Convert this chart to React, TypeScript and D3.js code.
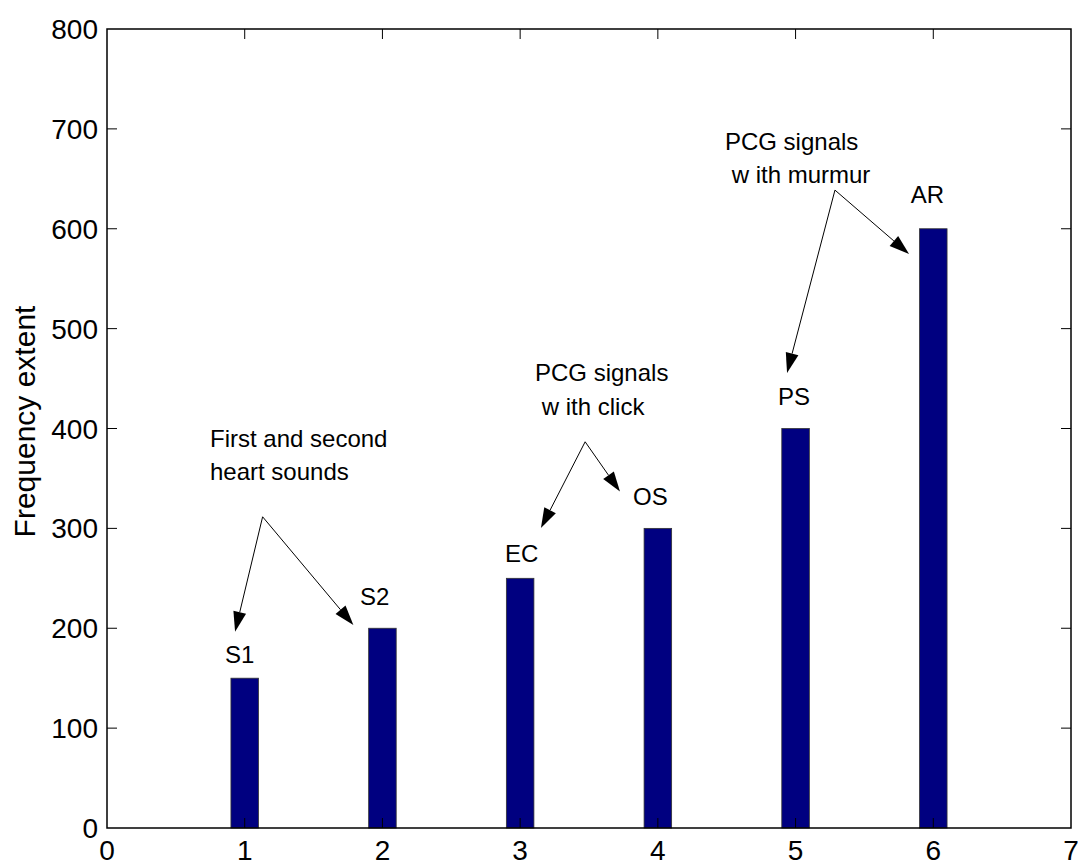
import React from "react";
import * as d3 from "d3";

const categories = [1, 2, 3, 4, 5, 6];
const values = [150, 200, 250, 300, 400, 600];
const barLabels = ["S1", "S2", "EC", "OS", "PS", "AR"];
const xTicks = [0, 1, 2, 3, 4, 5, 6, 7];
const yTicks = [0, 100, 200, 300, 400, 500, 600, 700, 800];

// label anchor (data units, left/baseline)
const labelPos: [number, number][] = [
  [0.857, 165],
  [1.837, 223],
  [2.89, 266],
  [3.82, 323],
  [4.873, 423.5],
  [5.836, 626],
];

const noteLines: string[][] = [
  ["First and second", "heart sounds"],
  ["PCG signals", "w ith click"],
  ["PCG signals", "w ith murmur"],
];
const notePos: [number, number][][] = [
  [[0.748, 381.5], [0.748, 348.4]],
  [[3.108, 447.4], [3.157, 414]],
  [[4.487, 678.8], [4.536, 645.8]],
];
// arrows: origin and two tips (data units)
const arrowOrigins: [number, number][] = [
  [1.130, 311.6],
  [3.472, 386.7],
  [5.286, 638.7],
];
const arrowTips: [number, number][][] = [
  [[0.930, 196.5], [1.789, 203.2]],
  [[3.151, 300.4], [3.725, 336.8]],
  [[4.938, 455.6], [5.824, 574.7]],
];

const W = 1078;
const H = 866;
const left = 107, right = 1071, top = 29, bottom = 828;

export default function App() {
  const x = d3.scaleLinear().domain([0, 7]).range([left, right]);
  const y = d3.scaleLinear().domain([0, 800]).range([bottom, top]);
  const barW = x(0.2) - x(0);
  const font = "'Liberation Sans', Arial, sans-serif";

  const arrow = (x0: number, y0: number, x1: number, y1: number, key: string) => {
    const dx = x1 - x0, dy = y1 - y0;
    const len = Math.hypot(dx, dy);
    const ux = dx / len, uy = dy / len;
    const hl = 20, hw = 6.5;
    const bx = x1 - ux * hl, by = y1 - uy * hl;
    const pts = [
      [x1, y1],
      [bx - uy * hw, by + ux * hw],
      [bx + uy * hw, by - ux * hw],
    ];
    return (
      <g key={key}>
        <line x1={x0} y1={y0} x2={bx} y2={by} stroke="#000" strokeWidth={1} />
        <polygon points={pts.map((p) => p.join(",")).join(" ")} fill="#000" />
      </g>
    );
  };

  return (
    <svg width={W} height={H} style={{ display: "block", position: "absolute", left: 0, top: 0 }} fontFamily={font}>
      <rect x={0} y={0} width={W} height={H} fill="#fff" />
      {categories.map((c, i) => (
        <rect
          key={"b" + i}
          x={x(c) - barW / 2}
          y={y(values[i])}
          width={barW}
          height={y(0) - y(values[i])}
          fill="#000080"
          stroke="#333"
          strokeWidth={0.8}
        />
      ))}
      <rect x={left} y={top} width={right - left} height={bottom - top} fill="none" stroke="#000" strokeWidth={1.5} />
      {xTicks.map((t) => (
        <g key={"xt" + t}>
          {t > 0 && t < 7 && (
            <>
              <line x1={x(t)} x2={x(t)} y1={bottom} y2={bottom - 10} stroke="#000" />
              <line x1={x(t)} x2={x(t)} y1={top} y2={top + 10} stroke="#000" />
            </>
          )}
          <text x={x(t)} y={860} textAnchor="middle" fontSize={28} fill="#000">{t}</text>
        </g>
      ))}
      {yTicks.map((t) => (
        <g key={"yt" + t}>
          {t > 0 && t < 800 && (
            <>
              <line x1={left} x2={left + 10} y1={y(t)} y2={y(t)} stroke="#000" />
              <line x1={right} x2={right - 10} y1={y(t)} y2={y(t)} stroke="#000" />
            </>
          )}
          <text x={98} y={y(t)} dy="0.36em" textAnchor="end" fontSize={28} fill="#000">{t}</text>
        </g>
      ))}
      <text
        transform={`translate(${24},${(top + bottom) / 2 - 7}) rotate(-90)`}
        dy="0.36em"
        textAnchor="middle"
        fontSize={30}
        fill="#000"
      >
        Frequency extent
      </text>
      {barLabels.map((l, i) => (
        <text key={"l" + i} x={x(labelPos[i][0])} y={y(labelPos[i][1])} fontSize={24} fill="#000">{l}</text>
      ))}
      {noteLines.map((lines, i) =>
        lines.map((s, j) => (
          <text key={"n" + i + j} x={x(notePos[i][j][0])} y={y(notePos[i][j][1])} fontSize={24} fill="#000">{s}</text>
        ))
      )}
      {arrowOrigins.map((o, i) =>
        arrowTips[i].map((tp, j) =>
          arrow(x(o[0]), y(o[1]), x(tp[0]), y(tp[1]), "a" + i + j)
        )
      )}
    </svg>
  );
}
